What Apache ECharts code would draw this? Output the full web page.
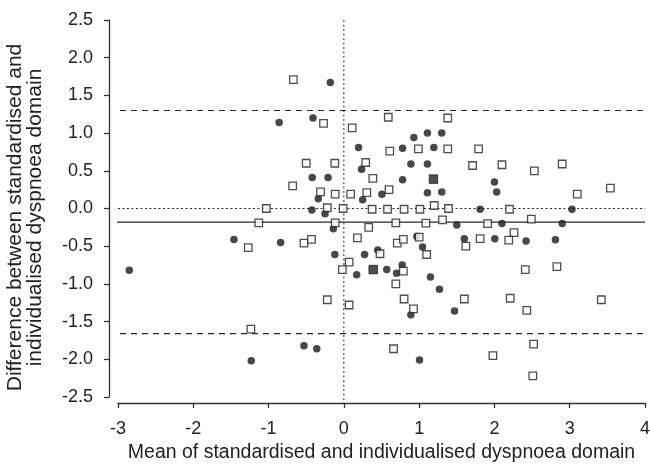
<!DOCTYPE html>
<html><head><meta charset="utf-8">
<script src="https://cdn.jsdelivr.net/npm/echarts@6/dist/echarts.min.js"></script>
<style>html,body{margin:0;padding:0;background:#fff}#c{width:650px;height:465px}</style>
</head><body><div id="c"></div>
<script>
// Bland–Altman data: [mean, difference]
const circlePoints = [
  [-0.18,1.67],[-0.86,1.14],[-0.41,1.20],[0.93,0.94],[1.11,1.00],[1.30,1.00],
  [0.195,0.81],[0.78,0.80],[1.195,0.81],[0.235,0.52],[0.89,0.59],[1.11,0.59],
  [-0.42,0.41],[-0.21,0.41],[0.78,0.38],[0.505,0.19],[-0.34,0.13],[0.25,0.115],
  [1.11,0.21],[1.30,0.22],[-0.425,-0.02],[-0.25,-0.07],[-0.14,-0.27],[2.00,0.35],
  [2.03,0.22],[1.81,-0.01],[3.03,-0.01],[1.50,-0.22],[2.10,-0.20],[2.90,-0.20],
  [-1.46,-0.41],[-2.85,-0.82],[-1.23,-2.02],[-0.84,-0.45],[-0.12,-0.61],[0.275,-0.61],
  [0.45,-0.55],[0.97,-0.37],[1.045,-0.51],[0.17,-0.88],[0.57,-0.81],[0.70,-0.86],
  [0.775,-0.75],[1.15,-0.91],[1.27,-1.07],[0.89,-1.41],[-0.53,-1.82],[-0.36,-1.86],
  [1.005,-2.01],[-0.27,-2.53],[1.60,-0.40],[2.005,-0.40],[2.42,-0.43],[2.81,-0.415],
  [1.47,-1.36]
];
const squarePoints = [
  [-0.67,1.71],[-0.27,1.13],[0.59,1.21],[0.11,1.07],[1.38,1.20],[0.61,0.76],
  [0.99,0.79],[1.38,0.79],[-0.50,0.60],[-0.12,0.60],[0.29,0.61],[-0.68,0.30],
  [0.385,0.40],[-0.31,0.22],[-0.115,0.19],[0.09,0.19],[0.305,0.21],[0.60,0.25],
  [-1.03,0.00],[-0.22,0.01],[-0.01,0.00],[0.375,-0.01],[0.58,-0.01],[0.80,-0.01],
  [1.01,-0.01],[1.20,0.04],[1.39,0.00],[-1.13,-0.19],[-0.115,-0.19],[0.33,-0.25],
  [0.69,-0.19],[1.09,-0.195],[1.31,-0.15],[1.79,0.79],[1.71,0.57],[2.10,0.58],
  [2.53,0.50],[2.90,0.59],[3.10,0.19],[3.54,0.27],[2.20,-0.01],[1.91,-0.20],
  [2.49,-0.14],[-1.27,-0.52],[-1.235,-1.60],[-0.53,-0.46],[-0.43,-0.41],[0.18,-0.39],
  [0.48,-0.60],[0.71,-0.46],[0.79,-0.41],[1.00,-0.38],[1.10,-0.61],[0.07,-0.71],
  [-0.02,-0.81],[0.79,-0.83],[0.69,-1.00],[-0.22,-1.21],[0.07,-1.28],[0.80,-1.20],
  [0.925,-1.33],[0.66,-1.86],[2.26,-0.32],[1.62,-0.50],[1.81,-0.40],[2.19,-0.42],
  [2.41,-0.81],[2.83,-0.77],[1.60,-1.20],[2.21,-1.19],[3.42,-1.21],[2.43,-1.35],
  [2.52,-1.80],[1.98,-1.95],[2.51,-2.22]
];
const filledSquarePoints = [[1.19,0.39],[0.39,-0.81]];

const meanDiff = -0.18;
const upperLimit = 1.30;
const lowerLimit = -1.66;
const xRange = [-3, 4];
const yRange = [-2.5, 2.5];
const lineStart = -3.12;   // lines start at the offset y-axis line
const vLineBottom = -2.58; // vertical zero line reaches the offset x-axis

const FONT = 'Liberation Sans, Arial, sans-serif';
const INK = '#222';

const chart = echarts.init(document.getElementById('c'), null, {renderer:'canvas'});
function hLine(y, type, w){
  return {type:'line', data:[[lineStart,y],[xRange[1],y]], showSymbol:false, clip:false,
    silent:true, lineStyle:{color:'#2a2a2a', width:w, type:type, cap:'butt'}, z:1};
}
const DOTS = [2, 2.5];
chart.setOption({
  animation:false,
  grid:{left:118, right:5, top:20, bottom:68, outerBoundsMode:'none', containLabel:false},
  xAxis:{type:'value', min:xRange[0], max:xRange[1], interval:1, offset:6,
    splitLine:{show:false},
    axisLine:{onZero:false, lineStyle:{color:'#333', width:1.3}},
    axisTick:{inside:false, length:5, lineStyle:{color:'#333', width:1.3}},
    axisLabel:{color:INK, fontFamily:FONT, fontSize:18, margin:17},
    name:'Mean of standardised and individualised dyspnoea domain',
    nameLocation:'middle', nameGap:40,
    nameTextStyle:{color:INK, fontFamily:FONT, fontSize:19.5}},
  yAxis:{type:'value', min:yRange[0], max:yRange[1], interval:0.5, offset:9,
    splitLine:{show:false},
    axisLine:{onZero:false, lineStyle:{color:'#333', width:1.3}},
    axisTick:{inside:false, length:5, lineStyle:{color:'#333', width:1.3}},
    axisLabel:{color:INK, fontFamily:FONT, fontSize:18, margin:16,
      formatter:v=>v.toFixed(1)},
    name:'Difference between standardised and\nindividualised dyspnoea domain',
    nameLocation:'middle', nameGap:64, nameRotate:90,
    nameTextStyle:{color:INK, fontFamily:FONT, fontSize:21, lineHeight:20, padding:[0,18,0,0]}},
  series:[
    hLine(upperLimit,[6,5],1.2),
    hLine(lowerLimit,[6,5],1.2),
    hLine(meanDiff,'solid',1.2),
    hLine(0,DOTS,1),
    {type:'line', data:[[0,yRange[1]],[0,vLineBottom]], showSymbol:false, clip:false,
      silent:true, lineStyle:{color:'#2a2a2a', width:1, type:DOTS, cap:'butt'}, z:1},
    {type:'scatter', data:circlePoints, symbol:'circle', symbolSize:7.5,
      itemStyle:{color:'#1a1a1a'}, z:3},
    {type:'scatter', data:squarePoints, symbol:'rect', symbolSize:7.5,
      itemStyle:{color:'#fff', borderColor:'#222', borderWidth:1.3}, z:4},
    {type:'scatter', data:filledSquarePoints, symbol:'rect', symbolSize:8.5,
      itemStyle:{color:'#222', borderColor:'#222', borderWidth:1}, z:5}
  ]
});
</script></body></html>
